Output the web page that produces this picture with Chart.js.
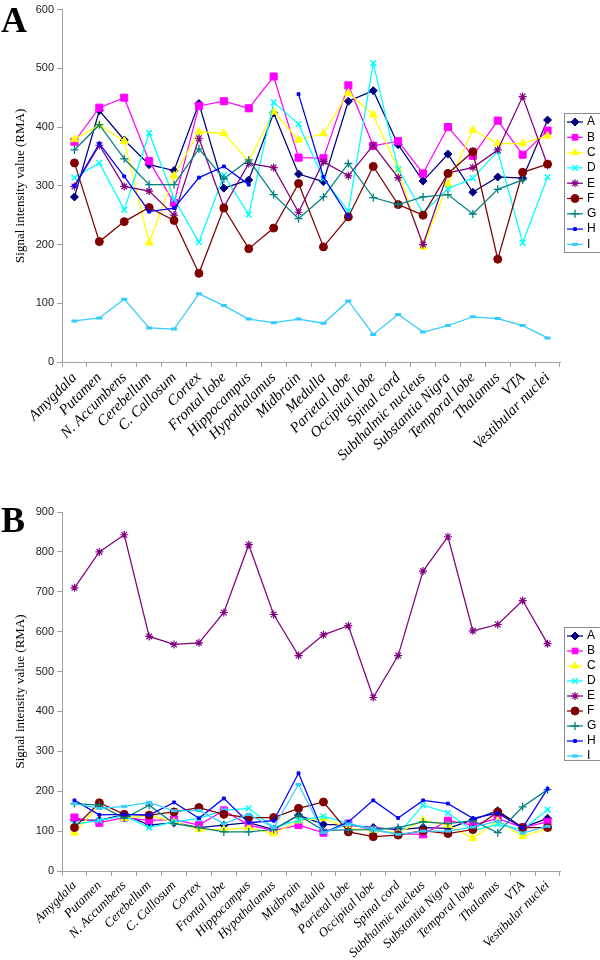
<!DOCTYPE html>
<html>
<head>
<meta charset="utf-8">
<script src="https://cdn.jsdelivr.net/npm/chart.js@4.4.1/dist/chart.umd.min.js"></script>
<style>
  body { margin: 0; background: #fff; width: 600px; height: 960px; position: relative; overflow: hidden; }
  .panel { position: absolute; left: 0; width: 600px; height: 480px; }
  .letter { position: absolute; left: 1px; font: bold 36px "Liberation Serif", "Times New Roman", serif; line-height: 36px; color: #000; }
</style>
</head>
<body>
<div class="panel" style="top:0"><canvas id="chartA" width="600" height="480"></canvas></div>
<div class="panel" style="top:480px"><canvas id="chartB" width="600" height="480"></canvas></div>
<div class="letter" style="top:2px">A</div>
<div class="letter" style="top:502px">B</div>
<script>
const regions = ['Amygdala', 'Putamen', 'N. Accumbens', 'Cerebellum', 'C. Callosum', 'Cortex',
  'Frontal lobe', 'Hippocampus', 'Hypothalamus', 'Midbrain', 'Medulla', 'Parietal lobe',
  'Occipital lobe', 'Spinal cord', 'Subthalmic nucleus', 'Substantia Nigra', 'Temporal lobe',
  'Thalamus', 'VTA', 'Vestibular nuclei'];

// panel A values (RMA)
const a_A = [281, 428, 378, 336, 326, 440, 296, 310, 424, 320, 307, 444, 462, 370, 308, 354, 289, 315, 313, 412];
const a_B = [375, 433, 450, 342, 271, 436, 444, 432, 486, 348, 347, 471, 368, 376, 321, 400, 351, 411, 353, 394];
const a_C = [379, 403, 376, 203, 317, 392, 389, 342, 426, 378, 389, 458, 421, 328, 196, 303, 395, 372, 372, 385];
const a_D = [314, 339, 259, 390, 278, 204, 318, 251, 442, 405, 312, 257, 509, 328, 254, 295, 313, 359, 203, 315];
const a_E = [299, 369, 299, 291, 250, 381, 264, 338, 331, 255, 341, 317, 369, 314, 200, 322, 331, 361, 452, 335];
const a_F = [339, 205, 239, 263, 241, 151, 262, 193, 228, 304, 196, 247, 333, 268, 250, 321, 358, 175, 323, 337];
const a_G = [361, 404, 346, 302, 302, 363, 312, 344, 285, 244, 281, 338, 280, 268, 281, 285, 252, 294, 310, null];
const a_H = [300, 372, 316, 256, 262, 314, 333, 302, null, 456, 315, 248, null, null, null, null, null, null, null, null];
const a_I = [70, 75, 107, 58, 56, 116, 96, 73, 67, 73, 66, 104, 47, 81, 51, 62, 77, 74, 62, 41];

// panel B values (RMA)
const b_A = [128, 127, 142, 115, 121, 109, 115, 121, 104, 140, 117, 115, 109, 104, 109, 107, 128, 151, 109, 132];
const b_B = [134, 121, 134, 127, 129, 115, 152, 115, 102, 115, 96, 119, 102, 94, 92, 126, 115, 132, 109, 123];
const b_C = [96, 165, 132, 140, 123, 104, 104, 109, 94, 126, 132, 107, 102, 96, 127, 115, 82, 126, 87, 107];
const b_D = [117, 127, 138, 109, 123, 132, 152, 157, 109, 127, 137, 120, 104, 92, 165, 146, 101, 117, 104, 154];
const b_E = [710, 800, 843, 588, 568, 572, 648, 818, 643, 540, 592, 615, 435, 540, 752, 838, 602, 618, 678, 570];
const b_F = [109, 171, 142, 140, 148, 159, 142, 134, 134, 157, 173, 98, 86, 90, 101, 94, 104, 148, 109, 109];
const b_G = [169, 165, 132, 165, 119, 109, 98, 98, 104, 140, 102, 103, 104, 109, 123, 119, 126, 96, 161, 204];
const b_H = [177, 141, 142, 140, 172, 132, 182, 121, 126, 245, 96, 123, 177, 133, 177, 169, 132, 145, 108, 206];
const b_I = [169, 157, 162, 172, 151, 152, 119, 142, 109, 217, 96, 118, 105, 92, 100, 100, 110, 125, 95, 112];

const labels = ['A', 'B', 'C', 'D', 'E', 'F', 'G', 'H', 'I'];
const colors = ['#000080', '#ff00ff', '#ffff00', '#00ffff', '#800080', '#800000', '#008080', '#0000ff', '#33ccff'];
const marks = [
  { style: 'rectRot', r: 4, bw: 1 },
  { style: 'rect', r: 5, bw: 1 },
  { style: 'triangle', r: 4.5, bw: 1 },
  { style: 'crossRot', r: 4, bw: 1.5 },
  { style: 'star', r: 4, bw: 1.2 },
  { style: 'circle', r: 4, bw: 1 },
  { style: 'cross', r: 4, bw: 1.3 },
  { style: 'rect', r: 2, bw: 1 },
  { style: 'line', r: 3, bw: 3 }
];

function makeSets(rows) {
  return rows.map((d, i) => ({
    label: labels[i],
    data: d,
    borderColor: colors[i],
    backgroundColor: colors[i],
    borderWidth: 1.25,
    pointStyle: marks[i].style,
    pointRadius: marks[i].r,
    pointBorderWidth: marks[i].bw,
    pointBackgroundColor: colors[i],
    pointBorderColor: colors[i],
    tension: 0,
    spanGaps: false,
    order: -i
  }));
}

// legend box drawn in the right margin, Excel style
const boxLegend = {
  id: 'boxLegend',
  afterDraw(chart, args, o) {
    const ctx = chart.ctx;
    ctx.save();
    ctx.fillStyle = '#fff';
    ctx.fillRect(o.left, o.top, 40, o.bottom - o.top);
    ctx.strokeStyle = '#8c8c8c';
    ctx.lineWidth = 1;
    ctx.strokeRect(o.left + 0.5, o.top + 0.5, 40, o.bottom - o.top);
    chart.data.datasets.forEach((ds, i) => {
      const y = o.firstY + i * o.rowH;
      ctx.strokeStyle = ds.borderColor;
      ctx.lineWidth = ds.borderWidth;
      ctx.beginPath();
      ctx.moveTo(o.left + 3, y);
      ctx.lineTo(o.left + 19, y);
      ctx.stroke();
      ctx.fillStyle = ds.pointBackgroundColor;
      ctx.strokeStyle = ds.pointBorderColor;
      ctx.lineWidth = ds.pointBorderWidth;
      Chart.helpers.drawPoint(ctx, {
        pointStyle: ds.pointStyle, radius: Math.min(ds.pointRadius, 4), rotation: 0, borderWidth: ds.pointBorderWidth
      }, o.left + 11, y);
      ctx.fillStyle = '#000';
      ctx.font = '12px "Liberation Sans", Arial, sans-serif';
      ctx.textBaseline = 'middle';
      ctx.textAlign = 'left';
      ctx.fillText(ds.label, o.left + 23, y);
    });
    ctx.restore();
  }
};

function build(id, rows, max, padTop, xHeight, labelSize, legend) {
  return new Chart(document.getElementById(id), {
    type: 'line',
    data: { labels: regions, datasets: makeSets(rows) },
    plugins: [boxLegend],
    options: {
      responsive: false,
      animation: false,
      layout: { padding: { top: padTop, right: 40, left: 0, bottom: 0 } },
      plugins: {
        legend: { display: false },
        tooltip: { enabled: false },
        boxLegend: legend
      },
      scales: {
        x: {
          type: 'category',
          offset: true,
          grid: { offset: true, drawOnChartArea: false, drawTicks: true, tickLength: 5, color: '#a0a0a0' },
          border: { color: '#a0a0a0' },
          ticks: {
            autoSkip: false, maxRotation: 45, minRotation: 45, padding: 2,
            color: '#000',
            font: { family: '"Liberation Serif", "Times New Roman", serif', style: 'italic', size: labelSize }
          },
          afterFit(s) { s.height = xHeight; }
        },
        y: {
          min: 0, max: max,
          ticks: {
            stepSize: 100, padding: 3, color: '#222',
            font: { family: '"Liberation Sans", Arial, sans-serif', size: 11 }
          },
          grid: { drawOnChartArea: false, drawTicks: true, tickLength: 5, color: '#a0a0a0' },
          border: { color: '#a0a0a0' },
          title: {
            display: true,
            text: 'Signal intensity value (RMA)',
            color: '#000',
            padding: { top: 13, bottom: 0 },
            font: { family: '"Liberation Serif", "Times New Roman", serif', size: 13 }
          },
          afterFit(s) { s.width = 62; }
        }
      }
    }
  });
}

build('chartA', [a_A, a_B, a_C, a_D, a_E, a_F, a_G, a_H, a_I], 600, 3, 118, 15,
  { left: 564, top: 113, bottom: 252, firstY: 122, rowH: 15.3 });
build('chartB', [b_A, b_B, b_C, b_D, b_E, b_F, b_G, b_H, b_I], 900, 32, 89, 13,
  { left: 564, top: 147, bottom: 280, firstY: 156, rowH: 15 });
</script>
</body>
</html>
